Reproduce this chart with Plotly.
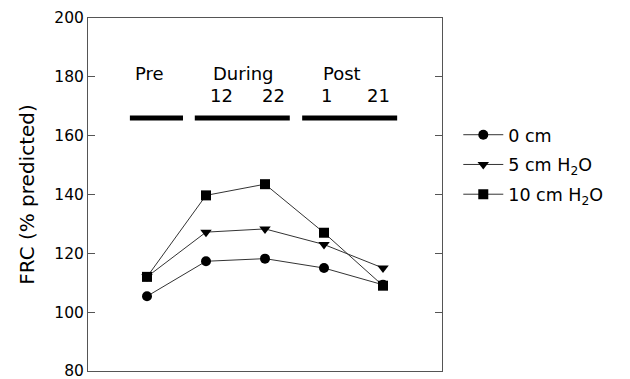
import plotly.graph_objects as go

x_pos = [1, 2, 3, 4, 5]
frc_0cm = [105.4, 117.3, 118.2, 115.0, 109.3]
frc_5cm = [112.0, 127.2, 128.3, 123.0, 115.0]
frc_10cm = [112.0, 139.7, 143.5, 127.0, 109.0]
series_names = ["0 cm", "5 cm H<sub>2</sub>O", "10 cm H<sub>2</sub>O"]
y_ticks = [80, 100, 120, 140, 160, 180, 200]

phase_labels = ["Pre", "During", "Post"]
phase_label_x = [1.05, 2.63, 4.3]
day_labels = ["12", "22", "1", "21"]
day_label_x = [2.27, 3.15, 4.05, 4.92]
phase_bar_x = [(0.71, 1.61), (1.81, 3.42), (3.63, 5.24)]
phase_bar_y = 166

FONT = "DejaVu Sans, Liberation Sans, Arial, sans-serif"
line_col = "#333333"
axis_col = "#555555"

fig = go.Figure()
fig.add_trace(go.Scatter(x=x_pos, y=frc_0cm, name=series_names[0], mode="lines+markers",
                         legendgroup="a",
                         line=dict(color=line_col, width=1, dash="solid"),
                         marker=dict(symbol="circle", size=10, color="black")))
fig.add_trace(go.Scatter(x=x_pos, y=frc_5cm, name=series_names[1], mode="lines+markers",
                         legendgroup="b",
                         line=dict(color=line_col, width=1, dash="solid"),
                         marker=dict(symbol="triangle-down", size=10, color="black")))
fig.add_trace(go.Scatter(x=x_pos, y=frc_10cm, name=series_names[2], mode="lines+markers",
                         legendgroup="c",
                         line=dict(color=line_col, width=1, dash="solid"),
                         marker=dict(symbol="square", size=10, color="black")))

for (x0, x1) in phase_bar_x:
    fig.add_shape(type="line", x0=x0, x1=x1, y0=phase_bar_y, y1=phase_bar_y,
                  xref="x", yref="y", line=dict(color="black", width=5))

for lbl, xv in zip(phase_labels, phase_label_x):
    fig.add_annotation(x=xv, y=181, text=lbl, showarrow=False, xref="x", yref="y",
                       font=dict(size=18, color="black", family=FONT))
for lbl, xv in zip(day_labels, day_label_x):
    fig.add_annotation(x=xv, y=173.5, text=lbl, showarrow=False, xref="x", yref="y",
                       font=dict(size=18, color="black", family=FONT))

# page body has an 8px margin, so the figure is shifted by 8px and margins adjusted
fig.update_layout(
    width=614, height=389,
    margin=dict(l=80, r=180, t=10, b=26),
    paper_bgcolor="white", plot_bgcolor="white",
    font=dict(family=FONT, size=16, color="black"),
    showlegend=True,
    legend=dict(x=1.046, y=0.72, xanchor="left", yanchor="top",
                font=dict(size=17.5, family=FONT), tracegroupgap=4,
                itemwidth=40, bgcolor="rgba(0,0,0,0)"),
)
fig.update_xaxes(range=[0, 6], showline=True, linecolor=axis_col, linewidth=1, mirror=True,
                 showgrid=False, zeroline=False, showticklabels=False, ticks="",
                 automargin=False)
fig.update_yaxes(range=[80, 200], tickvals=y_ticks, showline=True, linecolor=axis_col,
                 linewidth=1, mirror="ticks", ticks="inside", ticklen=7, tickcolor=axis_col,
                 showgrid=False, zeroline=False, tickfont=dict(size=15.5, family=FONT),
                 automargin=False,
                 title=dict(text="FRC (% predicted)", font=dict(size=20, family=FONT), standoff=14))

fig.write_html("out.html")
